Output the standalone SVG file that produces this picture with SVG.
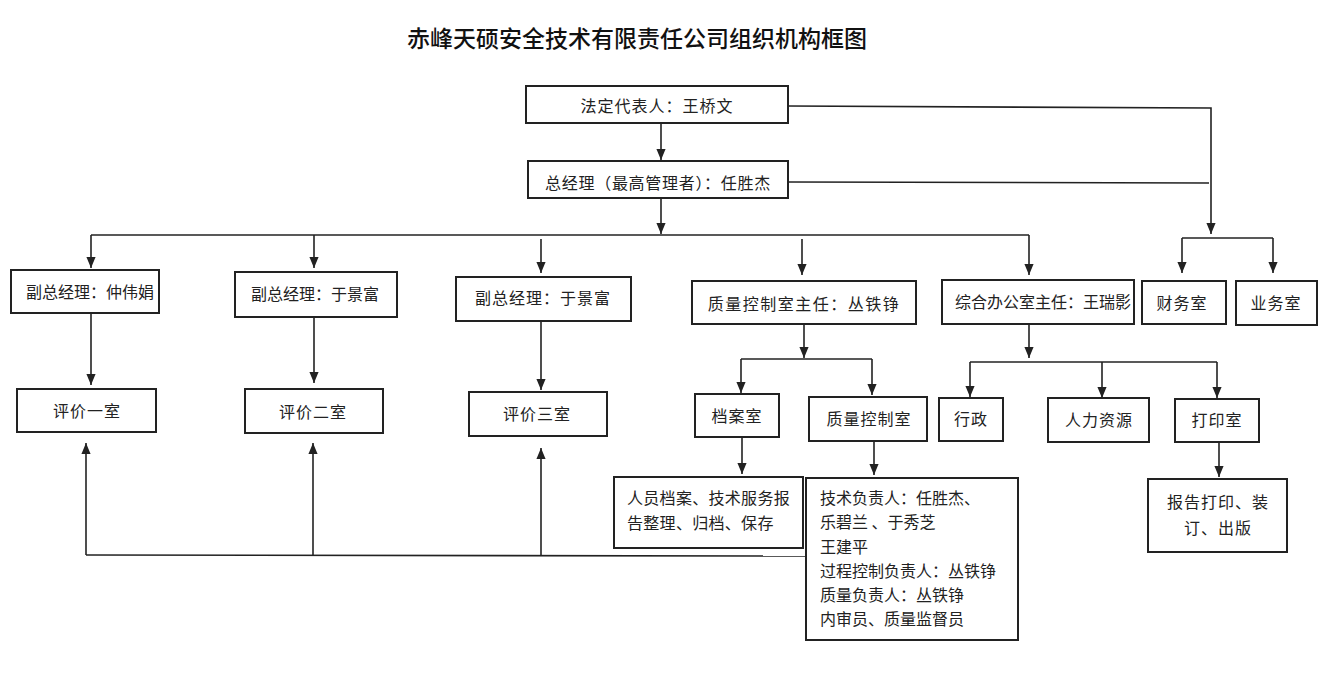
<svg xmlns="http://www.w3.org/2000/svg" width="1331" height="674" viewBox="0 0 1331 674">
<defs>
<marker id="arr" viewBox="0 0 12 10" refX="12" refY="5" markerWidth="11" markerHeight="10" markerUnits="userSpaceOnUse" orient="auto">
<path d="M0,0 L12,5 L0,10 z" fill="#222"/>
</marker>
<style>
.box{fill:#fff;stroke:#222;stroke-width:2}
.t{font-family:"Noto Sans CJK SC","Noto Sans",sans-serif;font-size:16px;fill:#222;dominant-baseline:central}
.c{text-anchor:middle}
.ln{fill:none;stroke:#222;stroke-width:1.6}
.ar{fill:none;stroke:#222;stroke-width:1.6;marker-end:url(#arr)}
.title{font-family:"Noto Sans CJK SC","Noto Sans",sans-serif;font-size:23px;fill:#111;text-anchor:middle;dominant-baseline:central;font-weight:500}
</style>
</defs>
<rect width="1331" height="674" fill="#fff"/>
<text class="title" x="637" y="37">赤峰天硕安全技术有限责任公司组织机构框图</text>

<g id="connectors">
<line class="ar" x1="661" y1="123" x2="661" y2="160"/>
<line class="ar" x1="661" y1="198" x2="661" y2="234"/>
<line class="ln" x1="91" y1="235" x2="1029" y2="235"/>
<line class="ar" x1="91" y1="235" x2="91" y2="268"/>
<line class="ar" x1="314" y1="235" x2="314" y2="268"/>
<line class="ar" x1="541" y1="239" x2="541" y2="273"/>
<line class="ar" x1="802" y1="239" x2="802" y2="275"/>
<line class="ar" x1="1029" y1="235" x2="1029" y2="275"/>
<line class="ar" x1="91" y1="313" x2="91" y2="385"/>
<line class="ar" x1="314" y1="317" x2="314" y2="383"/>
<line class="ar" x1="541" y1="321" x2="541" y2="390"/>
<line class="ln" x1="86" y1="555" x2="806" y2="556"/>
<line class="ar" x1="86" y1="555" x2="86" y2="443"/>
<line class="ar" x1="313" y1="555" x2="313" y2="443"/>
<line class="ar" x1="541" y1="556" x2="541" y2="448"/>
<polyline class="ar" points="788,106 1211,108 1211,234"/>
<line class="ln" x1="788" y1="182" x2="1209" y2="183"/>
<line class="ln" x1="1182" y1="238" x2="1273" y2="238"/>
<line class="ar" x1="1182" y1="238" x2="1182" y2="273"/>
<line class="ar" x1="1273" y1="238" x2="1273" y2="273"/>
<line class="ar" x1="804" y1="324" x2="804" y2="358"/>
<line class="ln" x1="741" y1="359" x2="872" y2="359"/>
<line class="ar" x1="741" y1="359" x2="741" y2="393"/>
<line class="ar" x1="872" y1="359" x2="872" y2="395"/>
<line class="ar" x1="742" y1="437" x2="742" y2="474"/>
<line class="ar" x1="874" y1="441" x2="874" y2="475"/>
<line class="ar" x1="1029" y1="324" x2="1029" y2="358"/>
<line class="ln" x1="970" y1="362" x2="1217" y2="362"/>
<line class="ar" x1="970" y1="362" x2="970" y2="397"/>
<line class="ar" x1="1102" y1="362" x2="1102" y2="398"/>
<line class="ar" x1="1217" y1="362" x2="1217" y2="398"/>
<line class="ar" x1="1219" y1="442" x2="1219" y2="477"/>
</g>

<g id="legal_rep"><rect class="box" x="526" y="86" width="262" height="37"/><text class="t c" x="657" y="105" letter-spacing="1">法定代表人：王桥文</text></g>
<g id="general_manager"><rect class="box" x="528" y="161" width="260" height="37"/><text class="t c" x="658" y="182" letter-spacing="0.7">总经理（最高管理者）：任胜杰</text></g>
<g id="deputy1"><rect class="box" x="11" y="270" width="148" height="43"/><text class="t c" x="90" y="291">副总经理：仲伟娟</text></g>
<g id="deputy2"><rect class="box" x="235" y="272" width="162" height="45"/><text class="t c" x="315" y="293">副总经理：于景富</text></g>
<g id="deputy3"><rect class="box" x="456" y="277" width="175" height="44"/><text class="t c" x="543" y="297" letter-spacing="1">副总经理：于景富</text></g>
<g id="qc_director"><rect class="box" x="692" y="281" width="224" height="43"/><text class="t c" x="804" y="303" letter-spacing="1.5">质量控制室主任：丛铁铮</text></g>
<g id="office_director"><rect class="box" x="942" y="280" width="192" height="44"/><text class="t c" x="1043" y="301">综合办公室主任：王瑞影</text></g>
<g id="finance"><rect class="box" x="1142" y="281" width="84" height="43"/><text class="t c" x="1182" y="302" letter-spacing="1">财务室</text></g>
<g id="business"><rect class="box" x="1236" y="281" width="81" height="44"/><text class="t c" x="1276" y="302" letter-spacing="1">业务室</text></g>
<g id="eval1"><rect class="box" x="17" y="389" width="139" height="43"/><text class="t c" x="87" y="410" letter-spacing="1">评价一室</text></g>
<g id="eval2"><rect class="box" x="245" y="389" width="138" height="44"/><text class="t c" x="313" y="411" letter-spacing="1">评价二室</text></g>
<g id="eval3"><rect class="box" x="469" y="392" width="138" height="44"/><text class="t c" x="537" y="413" letter-spacing="1">评价三室</text></g>
<g id="archive"><rect class="box" x="695" y="394" width="84" height="43"/><text class="t c" x="737" y="415" letter-spacing="1">档案室</text></g>
<g id="qc_room"><rect class="box" x="809" y="397" width="118" height="44"/><text class="t c" x="869" y="418" letter-spacing="1">质量控制室</text></g>
<g id="archive_duties"><rect class="box" x="614" y="477" width="189" height="71"/><text class="t" x="627" y="497" letter-spacing="0.3">人员档案、技术服务报</text><text class="t" x="627" y="522" letter-spacing="0.3">告整理、归档、保存</text></g>
<g id="qc_staff"><rect class="box" x="806" y="478" width="212" height="162"/>
<text class="t" x="820" y="497">技术负责人：任胜杰、</text>
<text class="t" x="820" y="521">乐碧兰 、于秀芝</text>
<text class="t" x="820" y="546">王建平</text>
<text class="t" x="820" y="570">过程控制负责人：丛铁铮</text>
<text class="t" x="820" y="594">质量负责人：丛铁铮</text>
<text class="t" x="820" y="618">内审员、质量监督员</text></g>
<g id="admin"><rect class="box" x="939" y="398" width="64" height="43"/><text class="t c" x="971" y="418" letter-spacing="1">行政</text></g>
<g id="hr"><rect class="box" x="1048" y="398" width="101" height="44"/><text class="t c" x="1099" y="419" letter-spacing="1">人力资源</text></g>
<g id="print_room"><rect class="box" x="1175" y="399" width="84" height="43"/><text class="t c" x="1217" y="419" letter-spacing="1">打印室</text></g>
<g id="print_duties"><rect class="box" x="1148" y="479" width="139" height="73"/><text class="t c" x="1218" y="501" letter-spacing="1">报告打印、装</text><text class="t c" x="1218" y="527" letter-spacing="1">订、出版</text></g>
</svg>
